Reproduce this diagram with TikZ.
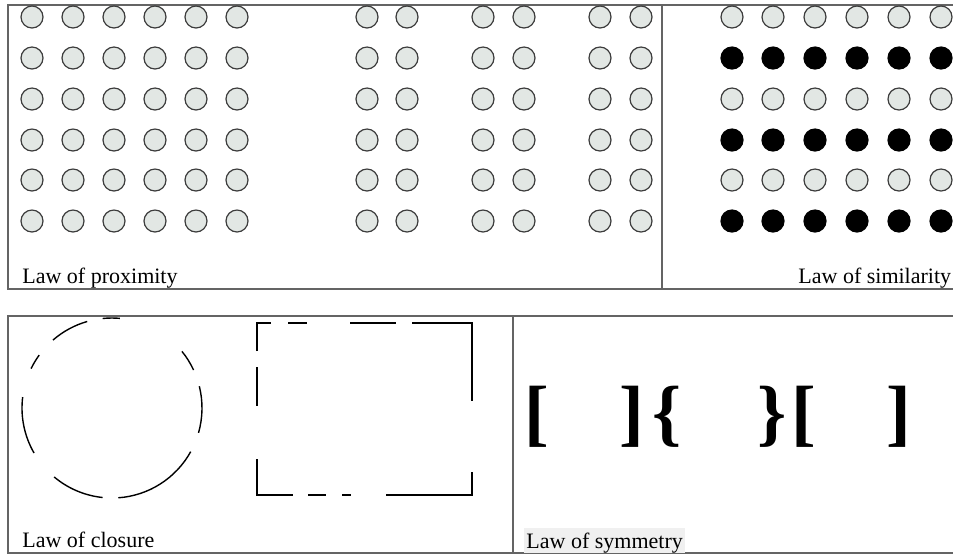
\documentclass[tikz,border=0pt]{standalone}
\usepackage{xcolor}
\usepackage{fontspec}
\setmainfont{Liberation Serif}
\usepackage{tikz}
\usetikzlibrary{positioning, calc}
\definecolor{dotfill}{RGB}{226,231,228}
\definecolor{dotline}{RGB}{60,60,60}
\definecolor{frameline}{RGB}{100,100,100}
\definecolor{hilite}{RGB}{240,240,240}
\tikzset{
  dot/.style={circle, draw=dotline, fill=dotfill, minimum size=11pt,
    inner sep=0pt, line width=0.6pt},
  blackdot/.style={circle, draw=black, fill=black, minimum size=11pt,
    inner sep=0pt, line width=0.6pt},
  frame/.style={draw=frameline, line width=1pt},
  gapline/.style={line width=0.7pt, color=black},
  lawlabel/.style={font=\fontsize{11}{13}\selectfont, inner sep=0pt, anchor=base west},
  bracket/.style={font=\fontsize{37}{40}\selectfont\bfseries, inner sep=0pt}
}

\begin{document}
\begin{tikzpicture}[x=0.5pt, y=-0.5pt]
  \useasboundingbox (0,0) rectangle (953,554);

  % Panel frames
  \draw[frame] (953,5) -- (8,5) -- (8,289) -- (953,289);
  \draw[frame] (662,5) -- (662,289);
  \draw[frame] (953,316) -- (8,316) -- (8,553) -- (953,553);
  \draw[frame] (513,316) -- (513,553);

  % Proximity: one block of six, then three pairs
  \foreach \r [count=\i] in {17,58,99,140,180,221} {
    \foreach \c [count=\j] in {32,73,114,155,196,237,367,407,483,524,600,641}
      \node[dot] (prox-\i-\j) at (\c,\r) {};
  }
  \node[lawlabel] (proxlabel) at (22,283) {Law of proximity};

  % Similarity: light and dark rows in turn
  \foreach \r/\sty [count=\i] in {17/dot,58/blackdot,99/dot,140/blackdot,180/dot,221/blackdot} {
    \foreach \c [count=\j] in {732,773,815,857,899,941}
      \node[\sty] (sim-\i-\j) at (\c,\r) {};
  }
  \node[lawlabel] (simlabel) at (798,283) {Law of similarity};

  % Closure: broken circle
  \coordinate (ring) at (112,408);
  \foreach \a/\b in {85/96,106/131,144/154,173/210,230/264,274/331,344/374,25/39}
    \draw[gapline] ($(ring)+(-\a:90)$) arc[start angle=-\a, end angle=-\b, radius=90];

  % Closure: broken rectangle
  \draw[gapline] (257,351) -- (257,323) -- (271,323);
  \draw[gapline] (288,323) -- (307,323);
  \draw[gapline] (350,323) -- (396,323);
  \draw[gapline] (412,323) -- (472,323) -- (472,401);
  \draw[gapline] (257,367) -- (257,406);
  \draw[gapline] (257,459) -- (257,495) -- (293,495);
  \draw[gapline] (308,495) -- (326,495);
  \draw[gapline] (342,495) -- (351,495);
  \draw[gapline] (386,495) -- (472,495) -- (472,472);
  \node[lawlabel] (closlabel) at (22,547) {Law of closure};

  % Symmetry
  \node[bracket] (lb1) at (537,417) {[};
  \node[bracket] (rb1) at (632,417) {]};
  \node[bracket] (lc) at (667,417) {\{};
  \node[bracket] (rc) at (772,417) {\}};
  \node[bracket] (lb2) at (804,417) {[};
  \node[bracket] (rb2) at (899,417) {]};
  \node[lawlabel, fill=hilite, inner xsep=1pt, text height=10pt, text depth=2.5pt]
    (symlabel) at (524,548) {Law of symmetry};
\end{tikzpicture}
\end{document}
